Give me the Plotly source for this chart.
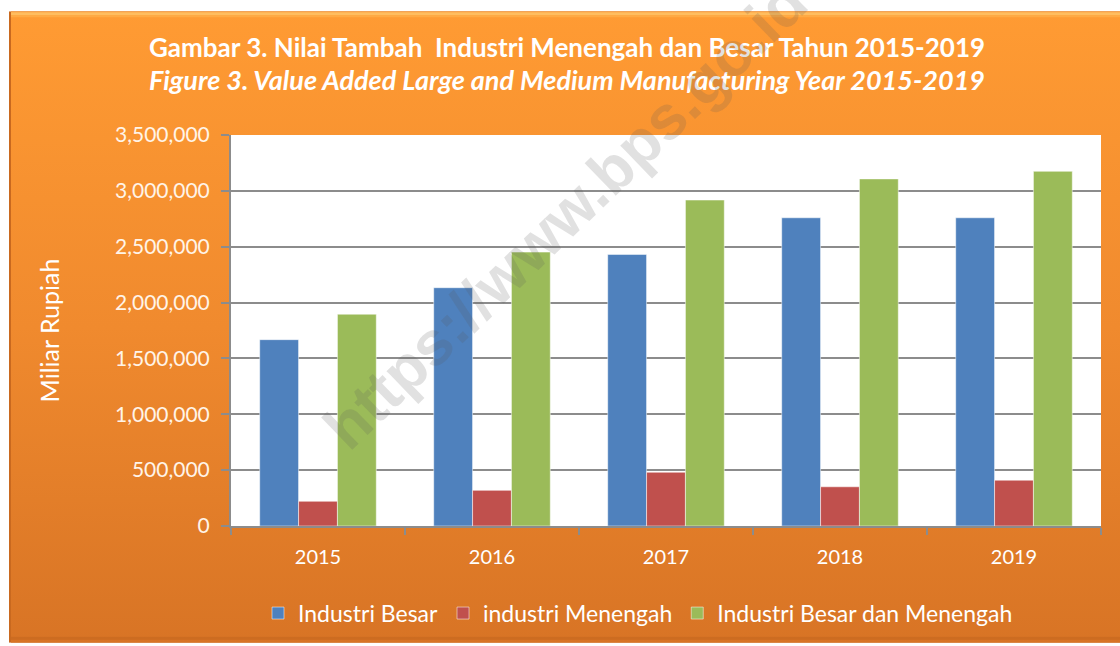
import base64
import plotly.graph_objects as go

years = ["2015", "2016", "2017", "2018", "2019"]
industri_besar = [1668000, 2133000, 2431000, 2759000, 2759000]
industri_menengah = [221000, 319000, 481000, 351000, 410000]
industri_besar_menengah = [1896000, 2452000, 2918000, 3107000, 3175000]

series_names = ["Industri Besar", "industri Menengah", "Industri Besar dan Menengah"]
series_colors = ["#4F81BD", "#C0504D", "#9BBB59"]

title_1 = "Gambar 3. Nilai Tambah  Industri Menengah dan Besar Tahun 2015-2019"
title_2 = "Figure 3. Value Added Large and Medium Manufacturing Year 2015-2019"
y_title = "Miliar Rupiah"
watermark = "https://www.bps.go.id"

W, H = 1120, 646
L, R, T, B = 231, 19, 135, 116
pw, ph = W - L - R, H - T - B


def px_to_paper_x(px):
    return (px - L) / pw


def px_to_paper_y(py):
    return (H - B - py) / ph


svg = """<svg xmlns='http://www.w3.org/2000/svg' width='1111' height='636' viewBox='0 0 1111 636' preserveAspectRatio='none'>
<defs><linearGradient id='g' x1='0' y1='0' x2='0' y2='1'>
<stop offset='0' stop-color='#FF9B33'/>
<stop offset='0.5' stop-color='#F08A2E'/>
<stop offset='1' stop-color='#D87425'/>
</linearGradient></defs>
<rect x='0' y='0' width='1111' height='636' fill='#C9691F'/>
<rect x='2' y='0' width='1109' height='636' fill='url(#g)'/>
<rect x='2' y='1' width='1109' height='3' fill='#FFC56A' opacity='0.8'/>
<rect x='2' y='4' width='1109' height='2' fill='#FFB04A' opacity='0.7'/>
<rect x='2' y='630' width='1109' height='3' fill='#C96A20' opacity='0.8'/>
</svg>"""
svg_uri = "data:image/svg+xml;base64," + base64.b64encode(svg.encode()).decode()

fig = go.Figure()
for name, vals, col in zip(series_names,
                           [industri_besar, industri_menengah, industri_besar_menengah],
                           series_colors):
    fig.add_trace(go.Bar(
        x=years, y=vals, name=name,
        marker=dict(color=col, line=dict(color="rgba(255,255,255,0.5)", width=1)),
    ))

font_family = "Lato, 'Open Sans', sans-serif"
grid = "#8C8C8C"

fig.update_layout(
    width=W, height=H,
    margin=dict(l=L, r=R, t=T, b=B, pad=0),
    paper_bgcolor="white",
    plot_bgcolor="rgba(0,0,0,0)",
    barmode="group",
    bargap=0.33,
    bargroupgap=0,
    font=dict(family=font_family, color="white"),
    showlegend=True,
    legend=dict(
        orientation="h", x=px_to_paper_x(638), xanchor="center",
        y=px_to_paper_y(618), yanchor="middle",
        font=dict(size=23, color="white", family=font_family),
        bgcolor="rgba(0,0,0,0)", itemwidth=30, traceorder="normal",
    ),
    xaxis=dict(
        type="category",
        showline=True, linecolor=grid, linewidth=2,
        ticks="outside", tickson="boundaries", ticklen=7, tickwidth=2, tickcolor=grid,
        tickfont=dict(size=20, color="white", family=font_family),
        ticklabelstandoff=12,
        showgrid=False,
    ),
    yaxis=dict(
        range=[0, 3500000], dtick=500000, tickformat=",",
        showline=True, linecolor=grid, linewidth=2,
        ticks="outside", ticklen=8, tickwidth=2, tickcolor=grid,
        showgrid=True, gridcolor=grid, gridwidth=2,
        zeroline=False,
        tickfont=dict(size=21, color="#FFF4E8", family=font_family),
        ticklabelstandoff=7,
        title=dict(text=y_title, font=dict(size=25, color="white", family=font_family), standoff=48),
    ),
    images=[dict(
        source=svg_uri, xref="paper", yref="paper",
        x=px_to_paper_x(9), y=px_to_paper_y(10),
        sizex=(W + 2 - 9) / pw, sizey=(H + 2 - 10) / ph,
        xanchor="left", yanchor="top", sizing="stretch", layer="below",
    )],
    shapes=[dict(
        type="rect", xref="paper", yref="paper", x0=0, x1=1, y0=0, y1=1,
        fillcolor="white", line=dict(width=0), layer="below",
    )],
    annotations=[
        dict(text="<b>" + title_1 + "</b>", xref="paper", yref="paper",
             x=px_to_paper_x(567), y=px_to_paper_y(46), xanchor="center", yanchor="middle",
             showarrow=False, font=dict(size=26, color="white", family=font_family)),
        dict(text="<b><i>" + title_2 + "</i></b>", xref="paper", yref="paper",
             x=px_to_paper_x(567), y=px_to_paper_y(79), xanchor="center", yanchor="middle",
             showarrow=False, font=dict(size=27, color="white", family=font_family)),
        dict(text="<b>" + watermark + "</b>", xref="paper", yref="paper",
             x=px_to_paper_x(565), y=px_to_paper_y(215), xanchor="center", yanchor="middle",
             textangle=-44, showarrow=False,
             font=dict(size=62, color="rgba(90,90,90,0.18)", family="Liberation Sans, Arial, sans-serif")),
    ],
)

fig.write_html("out.html", config={"displayModeBar": False},
               post_script="document.body.style.margin='0px';")
